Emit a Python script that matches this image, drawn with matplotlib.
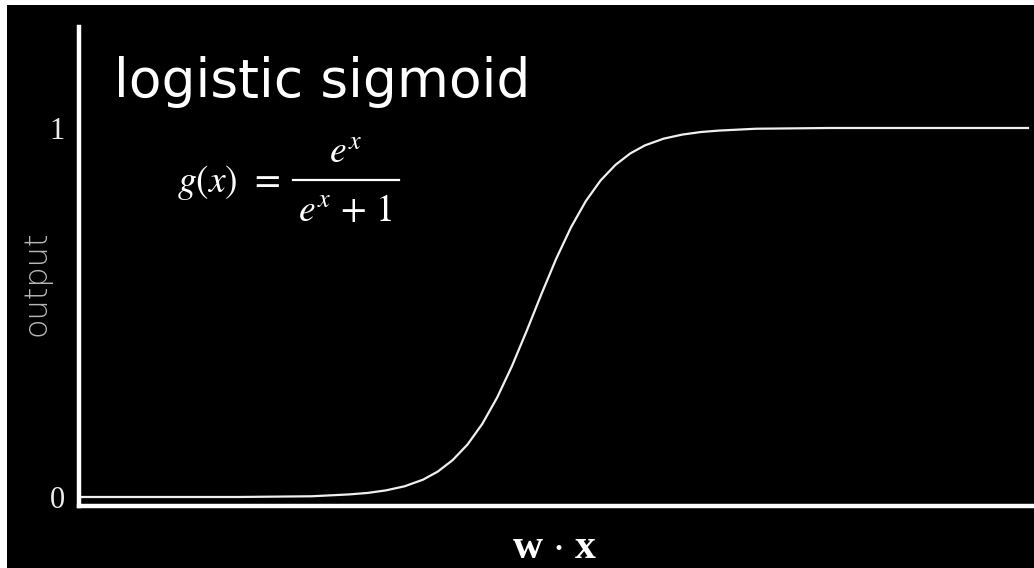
import matplotlib.pyplot as plt
from matplotlib.patches import Rectangle
from matplotlib.lines import Line2D

plt.rcParams['mathtext.fontset'] = 'stix'

wx = [-12.27, -8.0, -7.0, -6.0, -5.0, -4.5, -4.0, -3.5, -3.0, -2.6,
      -2.2, -1.8, -1.4, -1.0, -0.6, -0.2, 0.2, 0.6, 1.0, 1.4,
      1.8, 2.2, 2.6, 3.0, 3.5, 4.0, 4.5, 5.0, 6.0, 7.0,
      8.0, 13.35]
output = [0.000, 0.000, 0.001, 0.002, 0.007, 0.011, 0.018, 0.029, 0.047, 0.069,
          0.100, 0.142, 0.198, 0.269, 0.354, 0.450, 0.550, 0.646, 0.731, 0.802,
          0.858, 0.900, 0.931, 0.953, 0.971, 0.982, 0.989, 0.993, 0.998, 0.999,
          1.000, 1.000]
yticks = [0, 1]
ytick_labels = ['0', '1']

W, H = 1034, 568
fig = plt.figure(figsize=(W / 100, H / 100), dpi=100, facecolor='black')

# thin white strips along top and left edge
fig.patches.append(Rectangle((0, 563 / H), 1, 5 / H, transform=fig.transFigure,
                             facecolor='white', edgecolor='none', zorder=0))
fig.patches.append(Rectangle((0, 0), 7 / W, 1, transform=fig.transFigure,
                             facecolor='white', edgecolor='none', zorder=0))

ax = fig.add_axes([79 / W, (H - 506) / H, (1032 - 79) / W, (506 - 27) / H])
ax.set_facecolor('black')

ax.plot(wx, output, color='#f0f0f0', lw=1.6, solid_joinstyle='round')

ax.set_xlim(-12.3, 13.46)
ax.set_ylim(-0.0244, 1.2737)

for side in ['top', 'right']:
    ax.spines[side].set_visible(False)
for side in ['left', 'bottom']:
    ax.spines[side].set_color('white')
    ax.spines[side].set_linewidth(3.2)
    ax.spines[side].set_capstyle('projecting')

ax.set_xticks([])
ax.set_yticks(yticks)
ax.set_yticklabels(ytick_labels, fontfamily='Liberation Serif', fontsize=22,
                   color='#ececec')
ax.tick_params(axis='y', length=0, pad=10)

# axis labels
fig.text(37 / W, 1 - 283 / H, 'output', fontfamily='DejaVu Sans',
         fontweight='light', fontsize=23, color='#b8b8b8', rotation=90,
         ha='center', va='center')
fig.text(555 / W, 1 - 548 / H, r'w $\cdot$ x', fontfamily='Liberation Serif',
         fontweight='bold', fontsize=30, color='white', ha='center', va='center')

fig.text(114 / W, 1 - 97 / H, 'logistic sigmoid', fontfamily='DejaVu Sans',
         fontsize=38.5, color='white', ha='left', va='baseline')

# g(x) = e^x / (e^x + 1), laid out piece by piece
fs = 27
fig.text(177 / W, 1 - 192 / H, r'$g(x)\;\,=$', fontsize=fs, color='white',
         ha='left', va='baseline')
fig.text(345 / W, 1 - 163 / H, r'$e^x$', fontsize=fs, color='white',
         ha='center', va='baseline')
fig.text(345 / W, 1 - 221 / H, r'$e^x\,+\,1$', fontsize=fs, color='white',
         ha='center', va='baseline')
fig.lines.append(Line2D([293 / W, 399 / W], [1 - 180 / H, 1 - 180 / H],
                        transform=fig.transFigure, color='white', lw=1.6))

fig.savefig('out.png', dpi=100, facecolor=fig.get_facecolor())
